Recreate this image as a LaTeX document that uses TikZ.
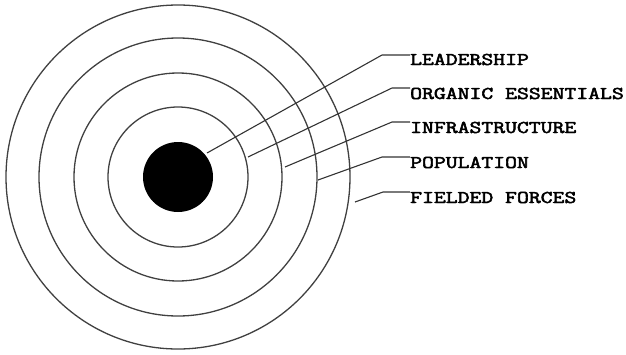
\documentclass[tikz,border=0pt]{standalone}
\usepackage{fontspec}
\newfontfamily\labfont[AutoFakeBold=2.5]{Latin Modern Mono}
\newcommand{\labtext}[1]{\scalebox{1.28}[1]{\labfont\bfseries\fontsize{18}{18}\selectfont #1}}
\begin{document}
\begin{tikzpicture}[x=1pt,y=-1pt,
  ring/.style={circle, draw=black!75, line width=1.3pt, inner sep=0pt},
  core/.style={circle, fill=black, inner sep=0pt},
  lab/.style={anchor=base west, inner sep=0pt},
  lead/.style={draw=black!80, line width=1.1pt}]
\useasboundingbox (0,0) rectangle (626,354);
\coordinate (c) at (178,177);
\node[core, minimum size=70pt] (disk) at (c) {};
\node[ring, minimum size=140pt] (r1) at (c) {};
\node[ring, minimum size=208pt] (r2) at (c) {};
\node[ring, minimum size=278pt] (r3) at (c) {};
\node[ring, minimum size=344pt] (r4) at (c) {};
% labels
\node[lab] (L1) at (410,65) {\labtext{LEADERSHIP}};
\node[lab] (L2) at (410,99) {\labtext{ORGANIC ESSENTIALS}};
\node[lab] (L3) at (410,133) {\labtext{INFRASTRUCTURE}};
\node[lab] (L4) at (410,168) {\labtext{POPULATION}};
\node[lab] (L5) at (410,203) {\labtext{FIELDED FORCES}};
% start points and bends
\coordinate (s1) at (207,153); \coordinate (b1) at (382,55);
\coordinate (s2) at (248,157); \coordinate (b2) at (392,88);
\coordinate (s3) at (285,167); \coordinate (b3) at (392,122);
\coordinate (s4) at (318,180); \coordinate (b4) at (382,157);
\coordinate (s5) at (355,202); \coordinate (b5) at (383,192);
\draw[lead] (s1) -- (b1) -- (b1 -| L1.west);
\draw[lead] (s2) -- (b2) -- (b2 -| L2.west);
\draw[lead] (s3) -- (b3) -- (b3 -| L3.west);
\draw[lead] (s4) -- (b4) -- (b4 -| L4.west);
\draw[lead] (s5) -- (b5) -- (b5 -| L5.west);
\end{tikzpicture}
\end{document}
